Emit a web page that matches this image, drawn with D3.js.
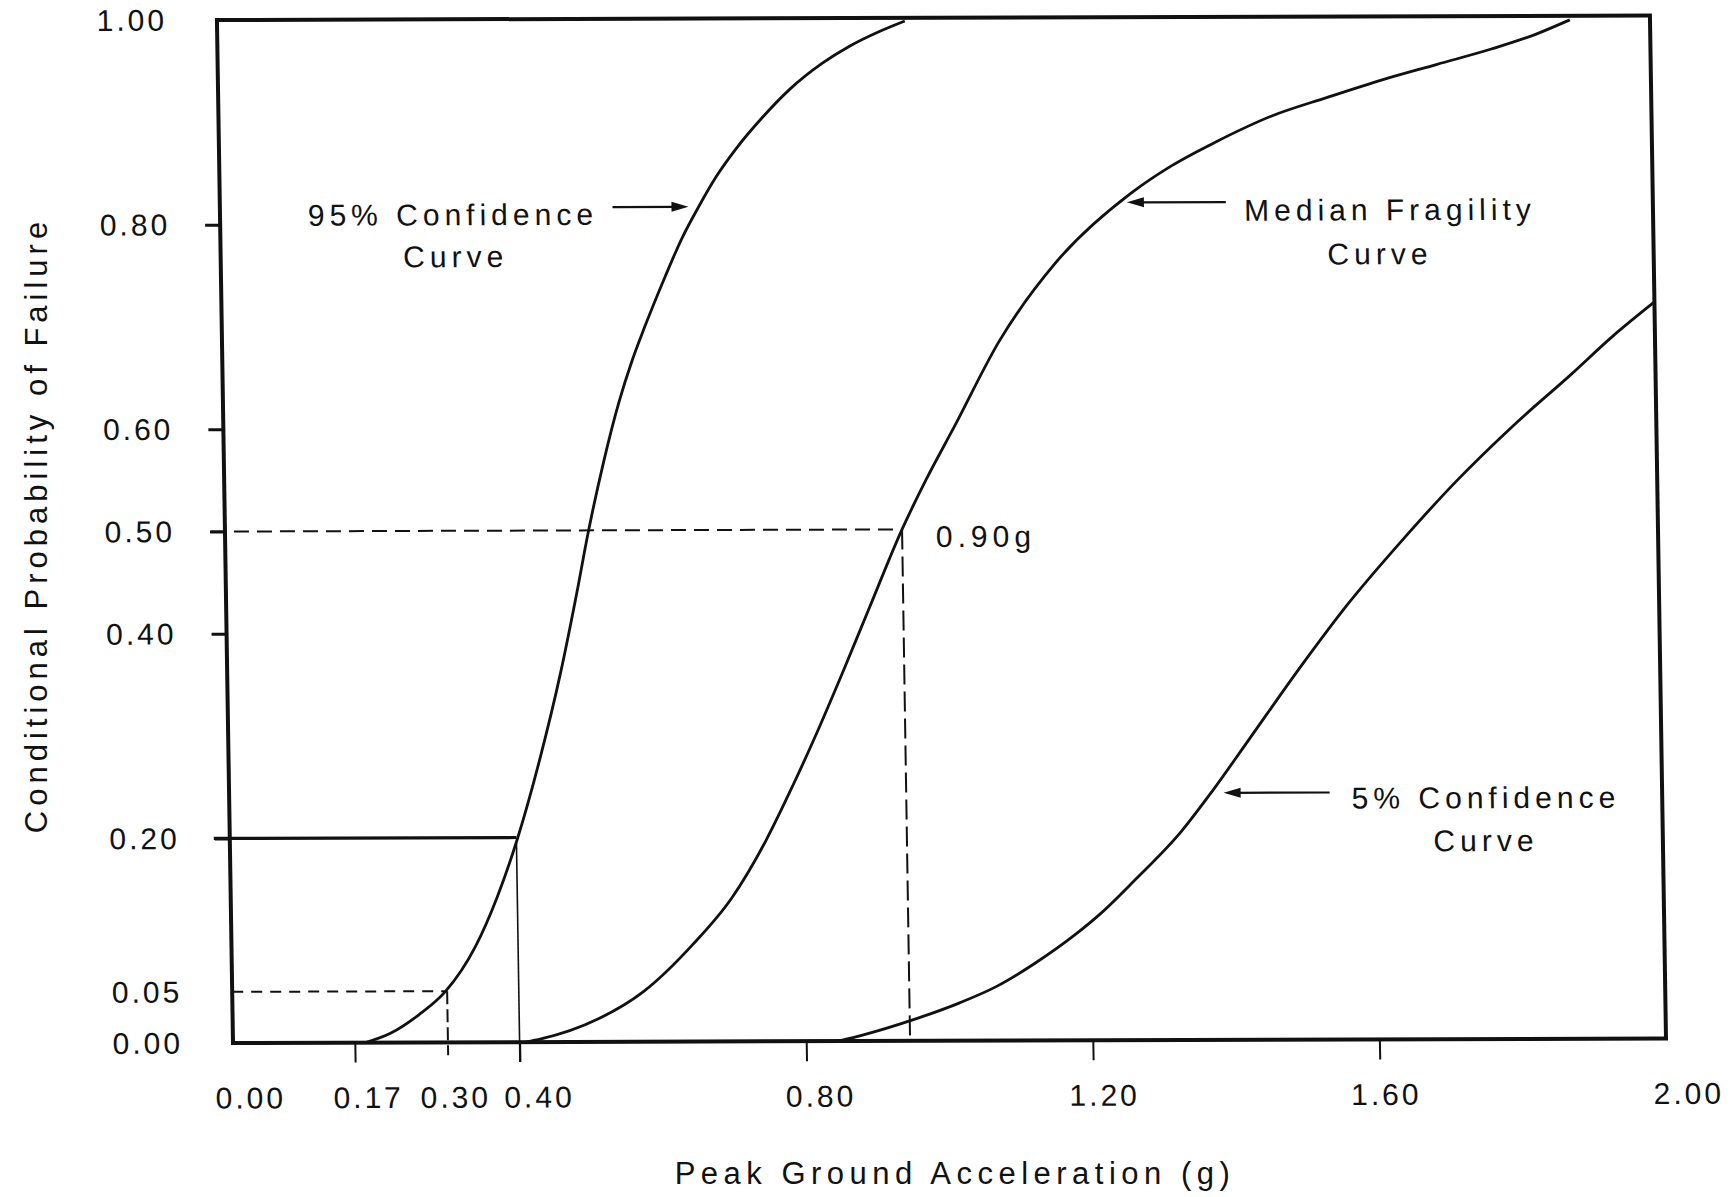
<!DOCTYPE html>
<html>
<head>
<meta charset="utf-8">
<script src="https://cdn.jsdelivr.net/npm/d3@7"></script>
<style>
  body { margin: 0; background: #fff; }
  text { font-family: "Liberation Sans", Arial, sans-serif; fill: #111; }
</style>
</head>
<body>
<div id="chart"></div>
<script>
// axis values
const xTicks = [0, 0.4, 0.8, 1.2, 1.6, 2.0];
const xMarks = [0.17, 0.30];
const yTicks = [0, 0.05, 0.2, 0.4, 0.5, 0.6, 0.8, 1.0];

// [pga (g), probability of failure]
const curve95 = [[0.185, 0], [0.22, 0.009], [0.26, 0.027], [0.298, 0.05], [0.34, 0.093],
  [0.372, 0.142], [0.402, 0.2], [0.435, 0.278], [0.465, 0.36], [0.49, 0.44], [0.506, 0.495],
  [0.53, 0.567], [0.553, 0.626], [0.572, 0.666], [0.591, 0.7], [0.62, 0.748], [0.644, 0.785],
  [0.669, 0.817], [0.693, 0.845], [0.721, 0.872], [0.759, 0.903], [0.797, 0.93], [0.844, 0.956],
  [0.881, 0.972], [0.925, 0.987], [0.96, 0.997]];
const curveMedian = [[0.409, 0], [0.43, 0.003], [0.509, 0.022], [0.574, 0.049], [0.644, 0.095],
  [0.699, 0.14], [0.748, 0.196], [0.787, 0.25], [0.822, 0.302], [0.86, 0.362], [0.898, 0.424],
  [0.945, 0.5], [0.98, 0.549], [1.02, 0.6], [1.085, 0.684], [1.165, 0.76], [1.272, 0.828],
  [1.33, 0.855], [1.392, 0.878], [1.47, 0.903], [1.548, 0.921], [1.625, 0.938], [1.702, 0.953],
  [1.779, 0.968], [1.84, 0.982], [1.888, 0.996]];
const curve5 = [[0.845, 0], [0.88, 0.006], [0.947, 0.02], [1.015, 0.037], [1.067, 0.053],
  [1.12, 0.075], [1.179, 0.104], [1.214, 0.124], [1.263, 0.157], [1.327, 0.203], [1.372, 0.243],
  [1.424, 0.293], [1.503, 0.369], [1.566, 0.426], [1.643, 0.488], [1.719, 0.545], [1.801, 0.6],
  [1.883, 0.65], [1.94, 0.686], [2.0, 0.72]];

// reference readings: [pga, probability]
const ref05 = [0.30, 0.05];
const ref20 = [0.40, 0.2];
const ref50 = [0.945, 0.5];

const notes = [
  {text: '95% Confidence', g: 0.325, p: 0.809, anchor: 'middle'},
  {text: 'Curve', g: 0.328, p: 0.768, anchor: 'middle'},
  {text: 'Median Fragility', g: 1.633, p: 0.811, anchor: 'middle'},
  {text: 'Curve', g: 1.618, p: 0.768, anchor: 'middle'},
  {text: '5% Confidence', g: 1.754, p: 0.236, anchor: 'middle'},
  {text: 'Curve', g: 1.753, p: 0.194, anchor: 'middle'},
  {text: '0.90g', g: 0.992, p: 0.493, anchor: 'start'}
];
const arrows = [
  {from: [0.548, 0.816], to: [0.654, 0.816]},
  {from: [1.404, 0.819], to: [1.266, 0.819]},
  {from: [1.536, 0.2415], to: [1.388, 0.2415]}
];

// hand placed label offsets along the bottom axis (px)
const xLabelShift = {0: 17, 0.17: 13, 0.3: 7, 0.4: 19, 0.8: 14, 1.2: 11, 1.6: 6, 2: 22};

let svg = d3.select('#chart')
  .append('svg')
  .attr('width', 1732)
  .attr('height', 1197);

svg.append('rect').attr('width', 1732).attr('height', 1197).attr('fill', '#fff');

let x = d3.scaleLinear().domain([0, 2]).range([0, 1433]);
let y = d3.scaleLinear().domain([0, 1]).range([0, -1023]);

// scanned page is slightly sheared / rotated
let g = svg.append('g')
  .attr('transform', 'translate(233,1043) rotate(-0.18) skewX(0.72)');

let ink = '#111';

// ticks
let xAxis = g.append('g')
  .call(d3.axisBottom(x).tickValues([0.17, 0.4, 0.8, 1.2, 1.6]).tickSize(20).tickFormat(''));
xAxis.select('.domain').remove();
xAxis.selectAll('line').attr('stroke', ink).attr('stroke-width', 2);

let yAxis = g.append('g')
  .call(d3.axisLeft(y).tickValues([0.2, 0.4, 0.5, 0.6, 0.8]).tickSize(15).tickFormat(''));
yAxis.select('.domain').remove();
yAxis.selectAll('line').attr('stroke', ink).attr('stroke-width', 3);

// tick labels
g.append('g')
  .selectAll('text')
  .data(xTicks.concat(xMarks))
  .enter()
  .append('text')
  .attr('x', d => x(d) + xLabelShift[d])
  .attr('y', 55)
  .attr('dominant-baseline', 'central')
  .attr('text-anchor', 'middle')
  .attr('font-size', 30)
  .attr('letter-spacing', 3)
  .text(d => d.toFixed(2));

g.append('g')
  .selectAll('text')
  .data(yTicks)
  .enter()
  .append('text')
  .attr('x', -50)
  .attr('y', d => y(d))
  .attr('dominant-baseline', 'central')
  .attr('text-anchor', 'end')
  .attr('font-size', 30)
  .attr('letter-spacing', 3)
  .text(d => d.toFixed(2));

// reference lines
g.append('line')
  .attr('x1', -16).attr('x2', x(ref20[0]))
  .attr('y1', y(ref20[1])).attr('y2', y(ref20[1]))
  .attr('stroke', ink).attr('stroke-width', 3.2);
g.append('line')
  .attr('x1', x(ref20[0])).attr('x2', x(ref20[0]))
  .attr('y1', y(ref20[1] - 0.005)).attr('y2', 20)
  .attr('stroke', ink).attr('stroke-width', 1.6);

g.append('line')
  .attr('x1', 0).attr('x2', x(ref05[0]))
  .attr('y1', y(ref05[1])).attr('y2', y(ref05[1]))
  .attr('stroke', ink).attr('stroke-width', 2).attr('stroke-dasharray', '11,8');
g.append('line')
  .attr('x1', x(ref05[0])).attr('x2', x(ref05[0]))
  .attr('y1', y(ref05[1])).attr('y2', 13)
  .attr('stroke', ink).attr('stroke-width', 2).attr('stroke-dasharray', '13,5');

g.append('line')
  .attr('x1', -14).attr('x2', x(ref50[0]))
  .attr('y1', y(ref50[1])).attr('y2', y(ref50[1]))
  .attr('stroke', ink).attr('stroke-width', 2).attr('stroke-dasharray', '15,8');
g.append('line')
  .attr('x1', x(ref50[0])).attr('x2', x(ref50[0]))
  .attr('y1', y(ref50[1])).attr('y2', y(0))
  .attr('stroke', ink).attr('stroke-width', 2).attr('stroke-dasharray', '20,7');

// fragility curves
let line = d3.line()
  .x(d => x(d[0]))
  .y(d => y(d[1]))
  .curve(d3.curveMonotoneX);

g.append('g')
  .selectAll('path')
  .data([curve95, curveMedian, curve5])
  .enter()
  .append('path')
  .attr('d', line)
  .attr('fill', 'none')
  .attr('stroke', ink)
  .attr('stroke-width', 2.8);

// frame
g.append('rect')
  .attr('x', x(0))
  .attr('y', y(1))
  .attr('width', x(2) - x(0))
  .attr('height', y(0) - y(1))
  .attr('fill', 'none')
  .attr('stroke', ink)
  .attr('stroke-width', 4);

// annotations
g.append('g')
  .selectAll('text')
  .data(notes)
  .enter()
  .append('text')
  .attr('x', d => x(d.g))
  .attr('y', d => y(d.p))
  .attr('dominant-baseline', 'central')
  .attr('text-anchor', d => d.anchor)
  .attr('font-size', 30)
  .attr('letter-spacing', 5)
  .text(d => d.text);

let arrowG = g.append('g');
arrows.forEach(a => {
  let x1 = x(a.from[0]), x2 = x(a.to[0]), yy = y(a.to[1]);
  let dir = x2 > x1 ? 1 : -1;
  arrowG.append('line')
    .attr('x1', x1).attr('x2', x2 - dir * 10)
    .attr('y1', yy).attr('y2', yy)
    .attr('stroke', ink).attr('stroke-width', 2.2);
  arrowG.append('path')
    .attr('d', `M${x2},${yy} L${x2 - dir * 17},${yy - 5} L${x2 - dir * 17},${yy + 5} Z`)
    .attr('fill', ink);
});

// axis titles
svg.append('text')
  .attr('x', 955)
  .attr('y', 1173)
  .attr('dominant-baseline', 'central')
  .attr('text-anchor', 'middle')
  .attr('font-size', 31)
  .attr('letter-spacing', 5.5)
  .text('Peak Ground Acceleration (g)');

svg.append('text')
  .attr('transform', 'translate(36,525) rotate(-90)')
  .attr('dominant-baseline', 'central')
  .attr('text-anchor', 'middle')
  .attr('font-size', 31)
  .attr('letter-spacing', 5)
  .text('Conditional Probability of Failure');
</script>
</body>
</html>
